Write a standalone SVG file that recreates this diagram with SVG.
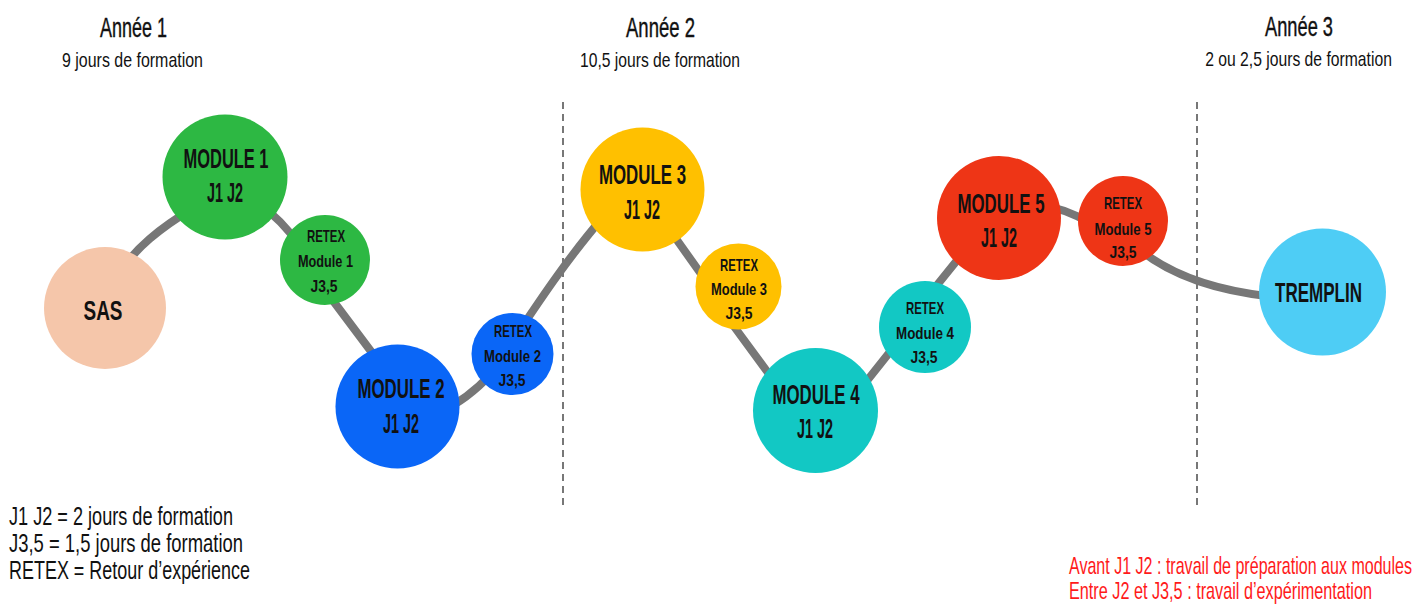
<svg xmlns="http://www.w3.org/2000/svg" width="1415" height="605" viewBox="0 0 1415 605">
<style>
  text { font-family: "Liberation Sans", Arial, sans-serif; fill: #111; }
  .hd { font-size: 27px; text-anchor: middle; stroke: #111; stroke-width: 0.4; }
  .sub { font-size: 21px; text-anchor: middle; }
  .big { font-size: 28px; font-weight: bold; text-anchor: middle; }
  .sm { font-size: 17px; font-weight: bold; text-anchor: middle; }
  .leg { font-size: 25px; }
  .red { font-size: 24px; fill: #ff1a1a; }
  .conn { fill: none; stroke: #777; stroke-width: 8; stroke-linecap: round; }
  .dash { stroke: #777; stroke-width: 2; stroke-dasharray: 7 5; }
</style>

<g id="headers">
  <text class="hd" x="133.5" y="37" textLength="67" lengthAdjust="spacingAndGlyphs">Année 1</text>
  <text class="sub" x="132.5" y="66.5" textLength="141" lengthAdjust="spacingAndGlyphs">9 jours de formation</text>
  <text class="hd" x="660.5" y="37" textLength="69" lengthAdjust="spacingAndGlyphs">Année 2</text>
  <text class="sub" x="660" y="67" textLength="160" lengthAdjust="spacingAndGlyphs">10,5 jours de formation</text>
  <text class="hd" x="1299" y="35.5" textLength="68" lengthAdjust="spacingAndGlyphs">Année 3</text>
  <text class="sub" transform="translate(1298.5,65.5) scale(0.75,1)" x="0" y="0" textLength="249" lengthAdjust="spacingAndGlyphs">2 ou 2,5 jours de formation</text>
</g>

<g id="separators">
  <line class="dash" x1="563" y1="102" x2="563" y2="505"/>
  <line class="dash" x1="1197" y1="102" x2="1197" y2="505"/>
</g>

<g id="connectors">
  <path class="conn" d="M 118 275 C 135 248, 160 228, 195 207"/>
  <path class="conn" d="M 258 203 Q 280 218 302 248"/>
  <path class="conn" d="M 325 290 L 385 370"/>
  <path class="conn" d="M 440 412 Q 467 400 492 373"/>
  <path class="conn" d="M 520 330 C 540 300, 570 255, 605 215"/>
  <path class="conn" d="M 667 226 L 711 288"/>
  <path class="conn" d="M 730 321 L 777 385"/>
  <path class="conn" d="M 858 392 L 897 343"/>
  <path class="conn" d="M 925 300 L 967 248"/>
  <path class="conn" d="M 1040 205 Q 1065 208 1092 224"/>
  <path class="conn" d="M 1140 250 C 1165 270, 1205 290, 1275 297"/>
</g>

<g id="sas">
  <circle cx="105" cy="308" r="61" fill="#f5c6aa"/>
  <text class="big" x="103" y="320" font-size="30" textLength="39" lengthAdjust="spacingAndGlyphs">SAS</text>
</g>

<g id="module1">
  <circle cx="225" cy="177" r="62.5" fill="#2db843"/>
  <text class="big" x="226" y="168" textLength="85" lengthAdjust="spacingAndGlyphs">MODULE 1</text>
  <text class="big" x="225" y="202" textLength="36" lengthAdjust="spacingAndGlyphs">J1 J2</text>
</g>

<g id="retex1">
  <circle cx="325" cy="260" r="45" fill="#2db843"/>
  <text class="sm" x="326" y="242" textLength="38" lengthAdjust="spacingAndGlyphs">RETEX</text>
  <text class="sm" x="325.5" y="267" textLength="55" lengthAdjust="spacingAndGlyphs">Module 1</text>
  <text class="sm" x="324" y="291.5" textLength="27" lengthAdjust="spacingAndGlyphs">J3,5</text>
</g>

<g id="module2">
  <circle cx="397.5" cy="406.5" r="62" fill="#0a66f7"/>
  <text class="big" x="401" y="398" textLength="87" lengthAdjust="spacingAndGlyphs">MODULE 2</text>
  <text class="big" x="401" y="433" textLength="36" lengthAdjust="spacingAndGlyphs">J1 J2</text>
</g>

<g id="retex2">
  <circle cx="512.5" cy="354" r="41" fill="#0a66f7"/>
  <text class="sm" x="513" y="337" textLength="38" lengthAdjust="spacingAndGlyphs">RETEX</text>
  <text class="sm" x="512.5" y="362" textLength="57" lengthAdjust="spacingAndGlyphs">Module 2</text>
  <text class="sm" x="512" y="385.5" textLength="27" lengthAdjust="spacingAndGlyphs">J3,5</text>
</g>

<g id="module3">
  <circle cx="642.5" cy="189.5" r="62" fill="#ffc000"/>
  <text class="big" x="642.5" y="184" textLength="87" lengthAdjust="spacingAndGlyphs">MODULE 3</text>
  <text class="big" x="642" y="219" textLength="36" lengthAdjust="spacingAndGlyphs">J1 J2</text>
</g>

<g id="retex3">
  <circle cx="738.5" cy="286.5" r="43" fill="#ffc000"/>
  <text class="sm" x="739" y="271" textLength="38" lengthAdjust="spacingAndGlyphs">RETEX</text>
  <text class="sm" x="739" y="295" textLength="56" lengthAdjust="spacingAndGlyphs">Module 3</text>
  <text class="sm" x="739" y="318.5" textLength="27" lengthAdjust="spacingAndGlyphs">J3,5</text>
</g>

<g id="module4">
  <circle cx="815.5" cy="410.5" r="62.5" fill="#12c8c4"/>
  <text class="big" x="816" y="404" textLength="87" lengthAdjust="spacingAndGlyphs">MODULE 4</text>
  <text class="big" x="815" y="438" textLength="36" lengthAdjust="spacingAndGlyphs">J1 J2</text>
</g>

<g id="retex4">
  <circle cx="925" cy="327" r="46" fill="#12c8c4"/>
  <text class="sm" x="925" y="314" textLength="38" lengthAdjust="spacingAndGlyphs">RETEX</text>
  <text class="sm" x="925" y="339" textLength="58" lengthAdjust="spacingAndGlyphs">Module 4</text>
  <text class="sm" x="924" y="363" textLength="27" lengthAdjust="spacingAndGlyphs">J3,5</text>
</g>

<g id="module5">
  <circle cx="999" cy="218" r="62" fill="#ee3516"/>
  <text class="big" x="1001" y="213" textLength="87" lengthAdjust="spacingAndGlyphs">MODULE 5</text>
  <text class="big" x="999" y="247" textLength="36" lengthAdjust="spacingAndGlyphs">J1 J2</text>
</g>

<g id="retex5">
  <circle cx="1123" cy="221" r="45" fill="#ee3516"/>
  <text class="sm" x="1123" y="209" textLength="38" lengthAdjust="spacingAndGlyphs">RETEX</text>
  <text class="sm" x="1123" y="235" textLength="57" lengthAdjust="spacingAndGlyphs">Module 5</text>
  <text class="sm" x="1123" y="258" textLength="27" lengthAdjust="spacingAndGlyphs">J3,5</text>
</g>

<g id="tremplin">
  <circle cx="1322.5" cy="292" r="63.5" fill="#4ecdf5"/>
  <text class="big" transform="translate(1318.5,302) scale(0.71,1)" x="0" y="0" font-size="24" textLength="122.5" lengthAdjust="spacingAndGlyphs">TREMPLIN</text>
</g>

<g id="legend">
  <text class="leg" x="9" y="525" textLength="224" lengthAdjust="spacingAndGlyphs">J1 J2 = 2 jours de formation</text>
  <text class="leg" x="9" y="552" textLength="234" lengthAdjust="spacingAndGlyphs">J3,5 = 1,5 jours de formation</text>
  <text class="leg" x="9" y="579" textLength="241" lengthAdjust="spacingAndGlyphs">RETEX = Retour d’expérience</text>
</g>

<g id="notes">
  <text class="red" transform="translate(1069,574) scale(0.668,1)" x="0" y="0" textLength="513.5" lengthAdjust="spacingAndGlyphs">Avant J1 J2 : travail de préparation aux modules</text>
  <text class="red" transform="translate(1069,599) scale(0.676,1)" x="0" y="0" textLength="448.2" lengthAdjust="spacingAndGlyphs">Entre J2 et J3,5 : travail d’expérimentation</text>
</g>
</svg>
